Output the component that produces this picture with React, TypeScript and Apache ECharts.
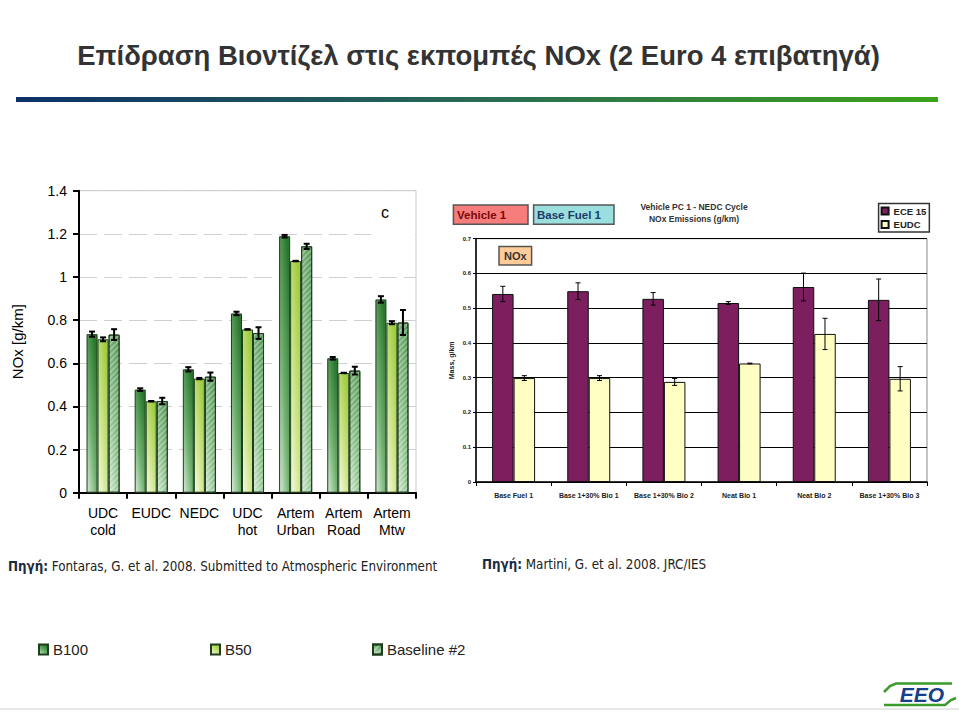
import React, { useEffect, useRef } from "react";
import * as echarts from "echarts";

// ---------- Left chart data (Fontaras et al.) ----------
const leftCategories = ["UDC\ncold", "EUDC", "NEDC", "UDC\nhot", "Artem\nUrban", "Artem\nRoad", "Artem\nMtw"];
const leftTicks = [0, 0.2, 0.4, 0.6, 0.8, 1, 1.2, 1.4];
const b100 = [0.735, 0.478, 0.572, 0.831, 1.189, 0.623, 0.896];
const b100Err = [0.012, 0.006, 0.01, 0.008, 0.006, 0.006, 0.015];
const b50 = [0.711, 0.424, 0.529, 0.757, 1.074, 0.555, 0.788];
const b50Err = [0.009, 0.001, 0.003, 0.001, 0.001, 0.001, 0.007];
const baseline = [0.733, 0.425, 0.538, 0.74, 1.142, 0.566, 0.789];
const baselineErr = [0.025, 0.015, 0.019, 0.027, 0.012, 0.018, 0.058];

// ---------- Right chart data (Martini et al.) ----------
const rightCategories = ["Base Fuel 1", "Base 1+30% Bio 1", "Base 1+30% Bio 2", "Neat Bio 1", "Neat Bio 2", "Base 1+30% Bio 3"];
const rightTicks = [0, 0.1, 0.2, 0.3, 0.4, 0.5, 0.6, 0.7];
const ece15 = [0.541, 0.549, 0.527, 0.515, 0.561, 0.524];
const ece15Err = [0.022, 0.024, 0.018, 0.004, 0.04, 0.06];
const eudc = [0.299, 0.299, 0.288, 0.341, 0.426, 0.297];
const eudcErr = [0.007, 0.007, 0.01, 0.001, 0.045, 0.035];

const LEFT_BAR = 0.229;
const RIGHT_BAR = 0.286;

function errorSeries(name: string, values: number[], errs: number[], axis: number, ratio: number, offsetIdx: number, capW: number, lw: number) {
  return {
    type: "custom",
    name,
    xAxisIndex: axis,
    yAxisIndex: axis,
    silent: true,
    z: 10,
    data: values.map((v, i) => [i, v, errs[i]]),
    encode: { x: 0, y: 1 },
    renderItem: (params: any, api: any) => {
      const i = api.value(0);
      const v = api.value(1);
      const e = api.value(2);
      const band = api.size([1, 0])[0];
      const off = band * ratio * offsetIdx;
      const hi = api.coord([i, v + e]);
      const lo = api.coord([i, v - e]);
      const x = hi[0] + off;
      const st = { stroke: "#000", lineWidth: lw };
      return {
        type: "group",
        children: [
          { type: "line", shape: { x1: x, y1: hi[1], x2: x, y2: lo[1] }, style: st },
          { type: "line", shape: { x1: x - capW / 2, y1: hi[1], x2: x + capW / 2, y2: hi[1] }, style: st },
          { type: "line", shape: { x1: x - capW / 2, y1: lo[1], x2: x + capW / 2, y2: lo[1] }, style: st },
        ],
      };
    },
  };
}

function grad(stops: [number, string][]) {
  return {
    type: "linear",
    x: 0,
    y: 1,
    x2: 0.7,
    y2: 0,
    colorStops: stops.map(([offset, color]) => ({ offset, color })),
  };
}

const b100Color = grad([[0, "#d6ebd6"], [0.45, "#72b272"], [1, "#2a782e"]]);
const b50Color = grad([[0, "#f6fbe0"], [0.45, "#cfe68e"], [1, "#9fcc3e"]]);
const baseColor = grad([[0, "#d2e9d2"], [0.5, "#86be86"], [1, "#5a9a5a"]]);

export default function App() {
  const ref = useRef<HTMLDivElement>(null);
  useEffect(() => {
    if (!ref.current) return;
    const chart = echarts.init(ref.current, undefined, { renderer: "svg" });
    const arial = "Liberation Sans, Arial, sans-serif";
    const tahoma = "DejaVu Sans Condensed, DejaVu Sans, sans-serif";
    const option: any = {
      animation: false,
      backgroundColor: "#fff",
      grid: [
        { left: 79, top: 190.7, width: 337, height: 302, show: true, borderColor: "#c8c8c8", borderWidth: 1 },
        { left: 476, top: 238.7, width: 451, height: 243.3, show: true, borderColor: "#8a8a8a", borderWidth: 1 },
      ],
      xAxis: [
        {
          type: "category",
          gridIndex: 0,
          data: leftCategories,
          axisLine: { lineStyle: { color: "#000", width: 2 } },
          axisTick: { show: true, length: 6, lineStyle: { color: "#000", width: 2 } },
          axisLabel: { color: "#000", fontSize: 14, lineHeight: 17, margin: 12, fontFamily: arial, interval: 0 },
        },
        {
          type: "category",
          gridIndex: 1,
          data: rightCategories,
          axisLine: { lineStyle: { color: "#000", width: 1.5 } },
          axisTick: { show: true, length: 4, lineStyle: { color: "#000", width: 1 } },
          axisLabel: { color: "#222", fontSize: 7, fontWeight: "bold", margin: 10, fontFamily: arial, interval: 0 },
        },
      ],
      yAxis: [
        {
          type: "value",
          gridIndex: 0,
          min: leftTicks[0],
          max: leftTicks[leftTicks.length - 1],
          interval: 0.2,
          name: "NOx [g/km]",
          nameLocation: "middle",
          nameGap: 54,
          nameTextStyle: { color: "#000", fontSize: 15, fontFamily: arial },
          axisLine: { show: true, lineStyle: { color: "#000", width: 2 } },
          axisTick: { show: true, length: 6, lineStyle: { color: "#000", width: 2 } },
          axisLabel: { color: "#000", fontSize: 14, margin: 12, fontFamily: arial },
          splitLine: { show: true, lineStyle: { color: "#cfcfcf", width: 1, type: [18, 7] } },
        },
        {
          type: "value",
          gridIndex: 1,
          min: rightTicks[0],
          max: rightTicks[rightTicks.length - 1],
          interval: 0.1,
          name: "Mass, g/km",
          nameLocation: "middle",
          nameGap: 21,
          nameTextStyle: { color: "#222", fontSize: 7, fontWeight: "bold", fontFamily: arial },
          axisLine: { show: true, lineStyle: { color: "#000", width: 1.5 } },
          axisTick: { show: true, length: 3, lineStyle: { color: "#000", width: 1 } },
          axisLabel: {
            color: "#222",
            fontSize: 6,
            fontWeight: "bold",
            margin: 5,
            fontFamily: arial,
            formatter: (v: number) => (v === 0 ? "0" : v.toFixed(1)),
          },
          splitLine: { show: true, lineStyle: { color: "#000", width: 1 } },
        },
      ],
      legend: [
        {
          data: ["B100"], left: 38, top: 642, itemWidth: 9, itemHeight: 10, padding: 0, icon: "rect",
          textStyle: { fontSize: 15, color: "#222", fontFamily: arial },
        },
        {
          data: ["B50"], left: 210, top: 642, itemWidth: 9, itemHeight: 10, padding: 0, icon: "rect",
          textStyle: { fontSize: 15, color: "#222", fontFamily: arial },
        },
        {
          data: ["Baseline #2"], left: 372, top: 642, itemWidth: 9, itemHeight: 10, padding: 0, icon: "rect",
          textStyle: { fontSize: 15, color: "#222", fontFamily: arial },
        },
        {
          data: ["ECE 15", "EUDC"], orient: "vertical", left: 878.6, top: 203.5, icon: "rect",
          itemWidth: 7, itemHeight: 7, itemGap: 2.6, padding: [2, 3, 2, 2],
          borderColor: "#333", borderWidth: 1.5, backgroundColor: "#fff",
          textStyle: { fontSize: 9.5, fontWeight: "bold", color: "#222", lineHeight: 11, fontFamily: arial },
        },
      ],
      series: [
        {
          type: "bar", name: "B100", xAxisIndex: 0, yAxisIndex: 0, data: b100, barWidth: "22.9%", barGap: "0%",
          itemStyle: { color: b100Color, borderColor: "#1d3d1d", borderWidth: 1 },
        },
        {
          type: "bar", name: "B50", xAxisIndex: 0, yAxisIndex: 0, data: b50, barWidth: "22.9%", barGap: "0%",
          itemStyle: { color: b50Color, borderColor: "#1d3d1d", borderWidth: 1 },
        },
        {
          type: "bar", name: "Baseline #2", xAxisIndex: 0, yAxisIndex: 0, data: baseline, barWidth: "22.9%", barGap: "0%",
          itemStyle: {
            color: baseColor, borderColor: "#1d3d1d", borderWidth: 1,
            decal: { symbol: "rect", dashArrayX: [1, 0], dashArrayY: [1.5, 2], rotation: -Math.PI / 4, color: "rgba(255,255,255,0.3)" },
          },
        },
        errorSeries("B100 err", b100, b100Err, 0, LEFT_BAR, -1, 6, 2),
        errorSeries("B50 err", b50, b50Err, 0, LEFT_BAR, 0, 6, 2),
        errorSeries("Baseline err", baseline, baselineErr, 0, LEFT_BAR, 1, 6, 2),
        {
          type: "bar", name: "ECE 15", xAxisIndex: 1, yAxisIndex: 1, data: ece15, barWidth: "28.6%", barGap: "0%",
          itemStyle: { color: "#7d1f5f", borderColor: "#111", borderWidth: 1 },
        },
        {
          type: "bar", name: "EUDC", xAxisIndex: 1, yAxisIndex: 1, data: eudc, barWidth: "28.6%", barGap: "0%",
          itemStyle: { color: "#ffffc4", borderColor: "#111", borderWidth: 1 },
        },
        errorSeries("ECE err", ece15, ece15Err, 1, RIGHT_BAR, -0.5, 5, 1),
        errorSeries("EUDC err", eudc, eudcErr, 1, RIGHT_BAR, 0.5, 5, 1),
      ],
      graphic: [
        {
          type: "text", x: 478.5, y: 55, z: 100,
          style: {
            text: "Επίδραση Βιοντίζελ στις εκπομπές NOx (2 Euro 4 επιβατηγά)",
            font: `bold 27.5px ${arial}`, fill: "#333", align: "center", verticalAlign: "middle",
          },
        },
        {
          type: "rect", shape: { x: 16, y: 97, width: 922, height: 5 }, z: 100,
          style: {
            fill: { type: "linear", x: 0, y: 0, x2: 1, y2: 0, colorStops: [
              { offset: 0, color: "#0c3068" }, { offset: 0.5, color: "#2a6a55" }, { offset: 1, color: "#3ca21a" },
            ] },
          },
        },
        // "c" panel label
        { type: "rect", shape: { x: 371, y: 225, width: 44, height: 16 }, z: 100, style: { fill: "#fff" } },
        { type: "text", x: 385, y: 212, z: 101, style: { text: "c", font: `16px ${arial}`, fill: "#000", align: "center", verticalAlign: "middle" } },
        // right chart header boxes
        { type: "rect", shape: { x: 453.4, y: 205, width: 74.6, height: 19.3 }, z: 100, style: { fill: "#f77c7c", stroke: "#555", lineWidth: 1.5 } },
        { type: "text", x: 457, y: 214.8, z: 101, style: { text: "Vehicle 1", font: `bold 11.5px ${arial}`, fill: "#7a0a0a", verticalAlign: "middle" } },
        { type: "rect", shape: { x: 533.6, y: 205, width: 80.4, height: 19.3 }, z: 100, style: { fill: "#9bdede", stroke: "#555", lineWidth: 1.5 } },
        { type: "text", x: 537, y: 214.8, z: 101, style: { text: "Base Fuel 1", font: `bold 11.5px ${arial}`, fill: "#1b3a66", verticalAlign: "middle" } },
        { type: "rect", shape: { x: 499, y: 246.4, width: 32.6, height: 18.5 }, z: 100, style: { fill: "#ffcc99", stroke: "#555", lineWidth: 1.5 } },
        { type: "text", x: 515.3, y: 255.8, z: 101, style: { text: "NOx", font: `bold 11px ${arial}`, fill: "#333", align: "center", verticalAlign: "middle" } },
        {
          type: "text", x: 694, y: 213, z: 101,
          style: { text: "Vehicle PC 1 - NEDC Cycle\nNOx Emissions (g/km)", font: `bold 8.5px ${arial}`, lineHeight: 12, fill: "#333", align: "center", verticalAlign: "middle" },
        },
        // sources
        {
          type: "text", x: 8, y: 566, z: 101,
          style: {
            text: "{b|Πηγή:} Fontaras, G. et al. 2008. Submitted to Atmospheric Environment",
            font: `13.3px ${tahoma}`, fill: "#222", verticalAlign: "middle",
            rich: { b: { fontWeight: "bold", fontSize: 13.3, fontFamily: tahoma, fill: "#1a2a44" } },
          },
        },
        {
          type: "text", x: 482, y: 564, z: 101,
          style: {
            text: "{b|Πηγή:} Martini, G. et al. 2008. JRC/IES",
            font: `13.3px ${tahoma}`, fill: "#222", verticalAlign: "middle",
            rich: { b: { fontWeight: "bold", fontSize: 13.3, fontFamily: tahoma, fill: "#1a2a44" } },
          },
        },
        // bottom line
        { type: "line", shape: { x1: 0, y1: 709, x2: 959, y2: 709 }, z: 100, style: { stroke: "#d0d0d0", lineWidth: 1 } },
        // logo
        {
          type: "polyline", z: 101,
          shape: { points: [[884, 692], [890, 686], [896, 683.5], [952, 683.5]] },
          style: { stroke: "#3a9a2a", lineWidth: 2.5, fill: null },
        },
        {
          type: "text", x: 922, y: 694, z: 101,
          style: { text: "EEO", font: `italic bold 21px ${arial}`, fill: "#17408a", align: "center", verticalAlign: "middle" },
        },
        {
          type: "polyline", z: 101,
          shape: { points: [[884, 705], [945, 705], [951, 700], [956, 698]] },
          style: { stroke: "#3a9a2a", lineWidth: 2.5, fill: null },
        },
      ],
    };
    chart.setOption(option);
    return () => chart.dispose();
  }, []);
  return (
    <div style={{ position: "absolute", left: 0, top: 0, width: 959, height: 712 }}>
      <div ref={ref} style={{ width: 959, height: 712 }} />
    </div>
  );
}
